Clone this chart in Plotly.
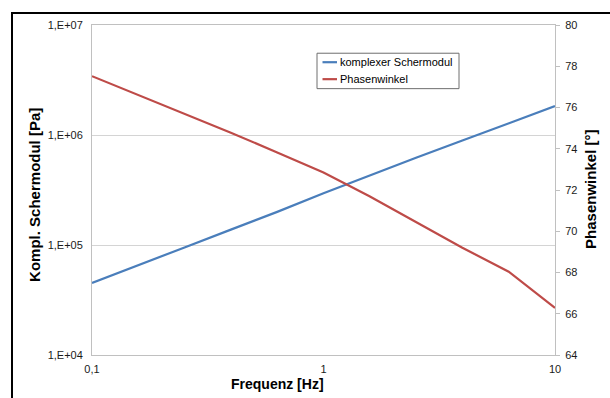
import plotly.graph_objects as go

# Frequency sweep (Hz)
frequenz = [0.1, 0.158, 0.251, 0.398, 0.631, 1.0, 1.58, 2.51, 3.98, 6.31, 10.0]
# Complex shear modulus |G*| (Pa)
schermodul = [4.52e4, 6.5e4, 9.5e4, 1.38e5, 2.0e5, 2.95e5, 4.3e5, 6.2e5, 8.9e5, 1.27e6, 1.83e6]
# Phase angle (deg)
phasenwinkel = [77.52, 76.61, 75.70, 74.78, 73.82, 72.85, 71.70, 70.45, 69.20, 68.04, 66.28]

x_ticks = [0.1, 1, 10]
x_labels = ["0,1", "1", "10"]
y_ticks = [1e4, 1e5, 1e6, 1e7]
y_labels = ["1,E+04", "1,E+05", "1,E+06", "1,E+07"]

series_names = ["komplexer Schermodul", "Phasenwinkel"]
series_colors = ["#4A7EBB", "#BE4B48"]

FONT = "Liberation Sans, Arial, sans-serif"
W, H = 610, 398
L, R, T, B = 92, 55, 24.7, 42.5
pw, ph = W - L - R, H - T - B


def px(xp):
    """Pixel column -> paper x."""
    return (xp - L) / pw


def py(yp):
    """Pixel row -> paper y."""
    return (H - B - yp) / ph


fig = go.Figure()
fig.add_trace(go.Scatter(
    x=frequenz, y=schermodul, name=series_names[0], mode="lines",
    line=dict(color=series_colors[0], width=2.2), yaxis="y"))
fig.add_trace(go.Scatter(
    x=frequenz, y=phasenwinkel, name=series_names[1], mode="lines",
    line=dict(color=series_colors[1], width=2.2), yaxis="y2"))

fig.update_layout(
    width=W, height=H,
    margin=dict(l=L, r=R, t=T, b=B),
    paper_bgcolor="white", plot_bgcolor="white",
    font=dict(family=FONT, size=11, color="#1a1a1a"),
    showlegend=False,
    xaxis=dict(type="log", range=[-1, 1], tickvals=x_ticks, ticktext=x_labels,
               showgrid=False, zeroline=False, showline=True, mirror=True,
               linecolor="#c0c0c0", linewidth=1, ticks="", ticklabelstandoff=4),
    yaxis=dict(type="log", range=[4, 7], tickvals=y_ticks, ticktext=y_labels,
               showgrid=True, gridcolor="#d4d4d4", gridwidth=1, zeroline=False,
               showline=True, mirror=True, linecolor="#c0c0c0", linewidth=1,
               ticks="", ticklabelstandoff=6),
    yaxis2=dict(overlaying="y", side="right", range=[64, 80], dtick=2, tick0=64,
                showgrid=False, zeroline=False, showline=True, linecolor="#c0c0c0",
                linewidth=1, ticks="outside", ticklen=4, tickcolor="#c0c0c0",
                ticklabelstandoff=3),
)

# Legend box with short line samples
fig.add_shape(type="rect", xref="paper", yref="paper",
              x0=px(317), x1=px(459), y0=py(88.5), y1=py(53),
              line=dict(color="#6e6e6e", width=1), fillcolor="white", layer="above")
for i, (name, color) in enumerate(zip(series_names, series_colors)):
    yc = 62 + 17 * i
    fig.add_shape(type="line", xref="paper", yref="paper",
                  x0=px(322.5), x1=px(337), y0=py(yc), y1=py(yc),
                  line=dict(color=color, width=2.2), layer="above")
    fig.add_annotation(text=name, xref="paper", yref="paper", x=px(337.5), y=py(yc),
                       xanchor="left", yanchor="middle", showarrow=False,
                       font=dict(family=FONT, size=11, color="#000"))

# Axis titles
fig.add_annotation(text="<b>Frequenz [Hz]</b>", xref="paper", yref="paper",
                   x=px(277), y=py(385), showarrow=False,
                   xanchor="center", yanchor="middle",
                   font=dict(family=FONT, size=14, color="#000"))
fig.add_annotation(text="<b>Kompl. Schermodul [Pa]</b>", xref="paper", yref="paper",
                   x=px(35), y=py(195), showarrow=False, textangle=-90,
                   xanchor="center", yanchor="middle",
                   font=dict(family=FONT, size=15, color="#000"))
fig.add_annotation(text="<b>Phasenwinkel [°]</b>", xref="paper", yref="paper",
                   x=px(591), y=py(190), showarrow=False, textangle=-90,
                   xanchor="center", yanchor="middle",
                   font=dict(family=FONT, size=15, color="#000"))

# Outer chart-area frame
fig.add_shape(type="rect", xref="paper", yref="paper",
              x0=px(12), x1=px(W + 20), y0=py(H + 20), y1=py(12.7),
              line=dict(color="#000", width=2), fillcolor="rgba(0,0,0,0)", layer="above")

fig.write_html("out.html")
